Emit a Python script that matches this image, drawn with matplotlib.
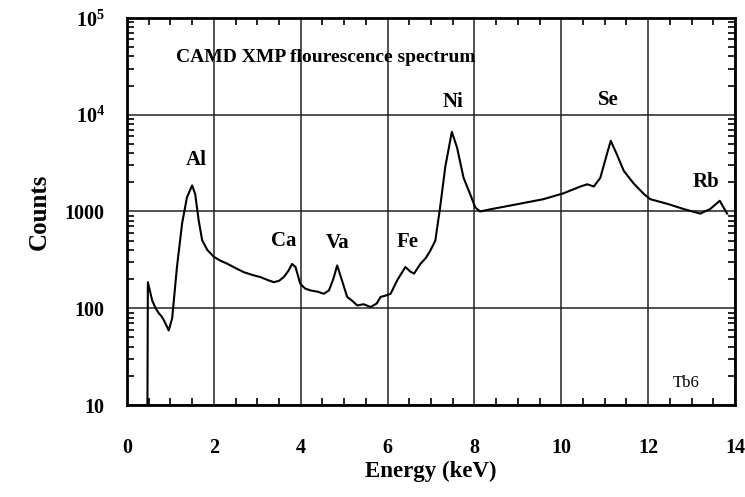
import matplotlib
matplotlib.use('Agg')
import matplotlib.pyplot as plt
from matplotlib.ticker import MultipleLocator, FixedLocator, FixedFormatter, LogLocator, NullFormatter

plt.rcParams['font.family'] = 'Liberation Serif'
plt.rcParams['font.weight'] = 'bold'
plt.rcParams['axes.labelweight'] = 'bold'
plt.rcParams['mathtext.fontset'] = 'custom'
plt.rcParams['mathtext.rm'] = 'Liberation Serif:bold'
plt.rcParams['mathtext.bf'] = 'Liberation Serif:bold'

# spectrum (energy in keV, counts)
energy = [0.47, 0.48, 0.58, 0.66, 0.73, 0.80, 0.85, 0.91, 0.96, 1.04, 1.15, 1.27, 1.38,
          1.50, 1.57, 1.65, 1.73, 1.85, 2.00, 2.15, 2.30, 2.50, 2.69, 2.90, 3.07, 3.25,
          3.38, 3.50, 3.61, 3.72, 3.80, 3.88, 3.99, 4.10, 4.22, 4.40, 4.53, 4.65, 4.75,
          4.84, 4.95, 5.07, 5.20, 5.30, 5.45, 5.61, 5.75, 5.84, 5.95, 6.07, 6.22, 6.41,
          6.52, 6.61, 6.76, 6.88, 6.99, 7.10, 7.21, 7.33, 7.48, 7.60, 7.75, 7.90, 8.02,
          8.13, 8.40, 8.82, 9.20, 9.59, 10.05, 10.44, 10.60, 10.75, 10.90, 11.05, 11.14,
          11.28, 11.44, 11.67, 11.90, 12.05, 12.44, 12.82, 13.20, 13.43, 13.65, 13.82]
counts = [10, 186, 120, 100, 89, 82, 75, 66, 59, 79, 267, 760, 1400,
          1860, 1510, 810, 505, 400, 340, 310, 290, 260, 236, 220, 210, 195,
          186, 192, 210, 245, 287, 267, 179, 160, 153, 148, 141, 153, 200,
          277, 194, 131, 118, 107, 110, 103, 112, 131, 135, 141, 194, 267,
          240, 228, 289, 330, 398, 500, 1100, 2900, 6640, 4580, 2230, 1520, 1100,
          1000, 1060, 1150, 1240, 1340, 1540, 1810, 1910, 1810, 2230, 3890, 5370,
          3890, 2630, 1940, 1520, 1340, 1200, 1060, 950, 1060, 1290, 950]

peak_names = ['Al', 'Ca', 'Va', 'Fe', 'Ni', 'Se', 'Rb']
peak_x = [1.6, 3.6, 4.86, 6.47, 7.51, 11.08, 13.34]
peak_y = [3400, 500, 470, 480, 13500, 14100, 2000]

y_ticks = [10, 100, 1000, 1e4, 1e5]
y_tick_labels = ['10', '100', '1000', r'$10^4$', r'$10^5$']

fig = plt.figure(figsize=(7.45, 4.97), dpi=100)
ax = fig.add_axes([0.1705, 0.185, 0.816, 0.779])

ax.plot(energy, counts, color='black', lw=1.5)

ax.set_yscale('log')
ax.set_xlim(0, 14)
ax.set_ylim(10, 1e5)

ax.xaxis.set_major_locator(MultipleLocator(2))
ax.xaxis.set_minor_locator(MultipleLocator(0.5))
ax.yaxis.set_major_locator(FixedLocator(y_ticks))
ax.yaxis.set_major_formatter(FixedFormatter(y_tick_labels))
ax.yaxis.set_minor_locator(LogLocator(base=10, subs=range(2, 10)))
ax.yaxis.set_minor_formatter(NullFormatter())

ax.grid(True, which='major', color='#222222', lw=1.1)
ax.tick_params(which='both', direction='in', top=True, right=True, colors='black')
ax.tick_params(which='major', length=0)
ax.tick_params(which='minor', length=5, width=1.2)
ax.tick_params(axis='x', which='major', pad=24, labelsize=14.5)
ax.tick_params(axis='y', which='major', pad=16, labelsize=14.5)
for s in ax.spines.values():
    s.set_linewidth(2)

ax.set_xlabel('Energy (keV)', fontsize=16.5, labelpad=2)
ax.set_ylabel('Counts', fontsize=18, labelpad=10)

for name, x, y in zip(peak_names, peak_x, peak_y):
    ax.text(x, y, name, fontsize=15, ha='center', va='center')

ax.text(1.12, 3.9e4, 'CAMD XMP flourescence spectrum', fontsize=14, ha='left', va='center')
ax.text(12.88, 17, 'Tb6', fontsize=12, ha='center', va='center', fontweight='normal')

fig.savefig('out.png', dpi=100)
